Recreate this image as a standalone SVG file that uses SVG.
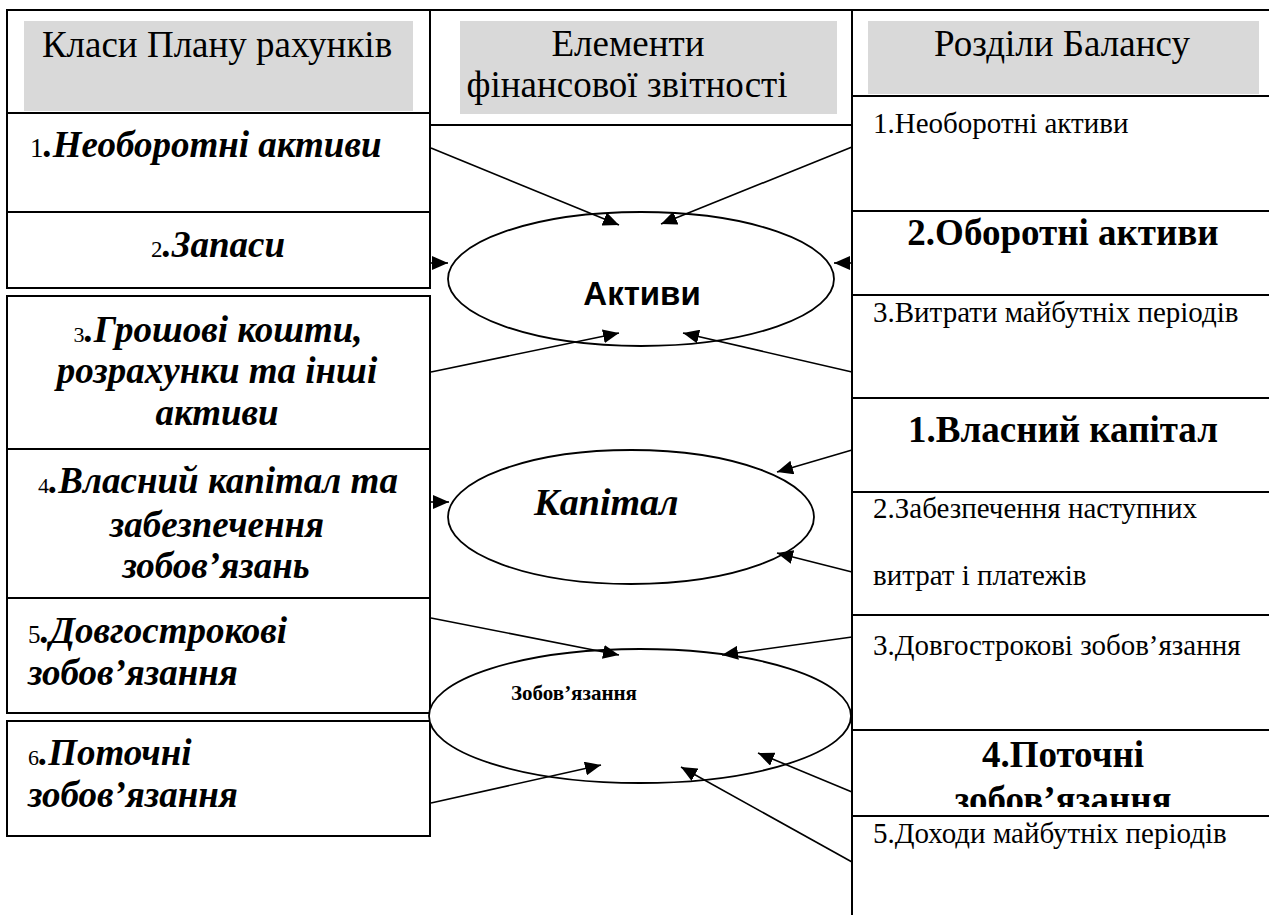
<svg xmlns="http://www.w3.org/2000/svg" width="1269" height="915" viewBox="0 0 1269 915">
<defs>
<style>
.box{fill:#fff;stroke:#000;stroke-width:2}
.hdr{fill:#d9d9d9;stroke:none}
.ln{stroke:#000;stroke-width:2;fill:none}
.ell{fill:#fff;stroke:#000;stroke-width:1.8}
.t{font-family:"Liberation Serif","Times New Roman",serif;fill:#000}
.h{font-size:37px}
.bi{font-weight:bold;font-style:italic;font-size:37px}
.num{font-weight:normal;font-style:normal}
.rs{font-size:29px}
.rb{font-size:37px;font-weight:bold}
.c{text-anchor:middle}
.con line{stroke:#000;stroke-width:1.6;marker-end:url(#ah)}
</style>
<marker id="ah" markerUnits="userSpaceOnUse" markerWidth="17" markerHeight="14" refX="16" refY="7" orient="auto">
<path d="M0,0 L16,7 L0,14 z" fill="#000"/>
</marker>
<clipPath id="clip4"><rect x="853" y="731" width="416" height="76"/></clipPath>
</defs>
<rect x="0" y="0" width="1269" height="915" fill="#fff"/>

<g id="left-header">
<rect class="box" x="7" y="10" width="423" height="103"/>
<rect class="hdr" x="24" y="21" width="389" height="90"/>
<text class="t h c" x="217" y="57">Класи Плану рахунків</text>
</g>
<g id="left-1">
<rect class="box" x="7" y="113" width="423" height="99"/>
<text class="t bi" x="30" y="157"><tspan class="num" font-size="27">1</tspan>.Необоротні активи</text>
</g>
<g id="left-2">
<rect class="box" x="7" y="212" width="423" height="76"/>
<text class="t bi c" x="218" y="257"><tspan class="num" font-size="23">2</tspan>.Запаси</text>
</g>
<g id="left-3">
<rect class="box" x="7" y="296" width="423" height="153"/>
<text class="t bi c" x="218" y="342"><tspan class="num" font-size="22">3</tspan>.Грошові кошти,</text>
<text class="t bi c" x="217" y="383">розрахунки та інші</text>
<text class="t bi c" x="217" y="425">активи</text>
</g>
<g id="left-4">
<rect class="box" x="7" y="449" width="423" height="149"/>
<text class="t bi c" x="218" y="493"><tspan class="num" font-size="22">4</tspan>.Власний капітал та</text>
<text class="t bi c" x="217" y="537">забезпечення</text>
<text class="t bi c" x="216" y="578">зобов’язань</text>
</g>
<g id="left-5">
<rect class="box" x="7" y="598" width="423" height="115"/>
<text class="t bi" x="28" y="643"><tspan class="num" font-size="25">5</tspan>.Довгострокові</text>
<text class="t bi" x="28" y="685">зобов’язання</text>
</g>
<g id="left-6">
<rect class="box" x="7" y="721" width="423" height="115"/>
<text class="t bi" x="28" y="765"><tspan class="num" font-size="22">6</tspan>.Поточні</text>
<text class="t bi" x="28" y="807">зобов’язання</text>
</g>

<g id="mid-header">
<rect class="box" x="430" y="10" width="422" height="115"/>
<rect class="hdr" x="460" y="21" width="377" height="93"/>
<text class="t h c" x="628" y="56">Елементи</text>
<text class="t h c" x="627" y="97">фінансової звітності</text>
</g>

<g id="right-column">
<line class="ln" x1="430" y1="10" x2="1269" y2="10"/>
<line class="ln" x1="852" y1="10" x2="852" y2="915"/>
</g>
<g id="right-header">
<rect class="hdr" x="868" y="21" width="391" height="73"/>
<text class="t h c" x="1062" y="56">Розділи Балансу</text>
<line class="ln" x1="852" y1="96" x2="1269" y2="96"/>
</g>
<g id="right-1">
<text class="t rs" x="873" y="133">1.Необоротні активи</text>
<line class="ln" x1="852" y1="211" x2="1269" y2="211"/>
</g>
<g id="right-2">
<text class="t rb c" x="1063" y="245">2.Оборотні активи</text>
<line class="ln" x1="852" y1="295" x2="1269" y2="295"/>
</g>
<g id="right-3">
<text class="t rs" x="873" y="322">3.Витрати майбутніх періодів</text>
<line class="ln" x1="852" y1="398" x2="1269" y2="398"/>
</g>
<g id="right-4">
<text class="t rb c" x="1063" y="442">1.Власний капітал</text>
<line class="ln" x1="852" y1="492" x2="1269" y2="492"/>
</g>
<g id="right-5">
<text class="t rs" x="873" y="518">2.Забезпечення наступних</text>
<text class="t rs" x="873" y="585">витрат і платежів</text>
<line class="ln" x1="852" y1="615" x2="1269" y2="615"/>
</g>
<g id="right-6">
<text class="t rs" x="873" y="655">3.Довгострокові зобов’язання</text>
<line class="ln" x1="852" y1="730" x2="1269" y2="730"/>
</g>
<g id="right-7">
<text class="t rb c" x="1063" y="767">4.Поточні</text>
<g clip-path="url(#clip4)"><text class="t rb c" x="1063" y="812">зобов’язання</text></g>
<line class="ln" x1="852" y1="816" x2="1269" y2="816"/>
</g>
<g id="right-8">
<text class="t rs" x="873" y="843">5.Доходи майбутніх періодів</text>
</g>

<g id="ellipse-aktyvy">
<ellipse class="ell" cx="641" cy="279" rx="193" ry="67"/>
<text x="642" y="305" text-anchor="middle" font-family="Liberation Sans, Arial, sans-serif" font-weight="bold" font-size="33">Активи</text>
</g>
<g id="ellipse-kapital">
<ellipse class="ell" cx="631" cy="517" rx="183" ry="67"/>
<text class="t" x="534" y="515" font-weight="bold" font-style="italic" font-size="38">Капітал</text>
</g>
<g id="ellipse-zobov">
<ellipse class="ell" cx="640" cy="716" rx="211" ry="67"/>
<text class="t" x="511" y="700" font-weight="bold" font-size="21">Зобов’язання</text>
</g>

<g id="connectors" class="con">
<line x1="431" y1="148" x2="619" y2="225"/>
<line x1="852" y1="147" x2="661" y2="224"/>
<line x1="431" y1="263" x2="448" y2="263"/>
<line x1="852" y1="263" x2="834" y2="263"/>
<line x1="431" y1="372" x2="619" y2="333"/>
<line x1="852" y1="372" x2="683" y2="333"/>
<line x1="431" y1="502" x2="449" y2="502"/>
<line x1="852" y1="450" x2="777" y2="472"/>
<line x1="852" y1="572" x2="777" y2="553"/>
<line x1="431" y1="618" x2="619" y2="655"/>
<line x1="852" y1="637" x2="722" y2="655"/>
<line x1="431" y1="803" x2="601" y2="765"/>
<line x1="852" y1="792" x2="758" y2="753"/>
<line x1="852" y1="862" x2="681" y2="767"/>
</g>
</svg>
